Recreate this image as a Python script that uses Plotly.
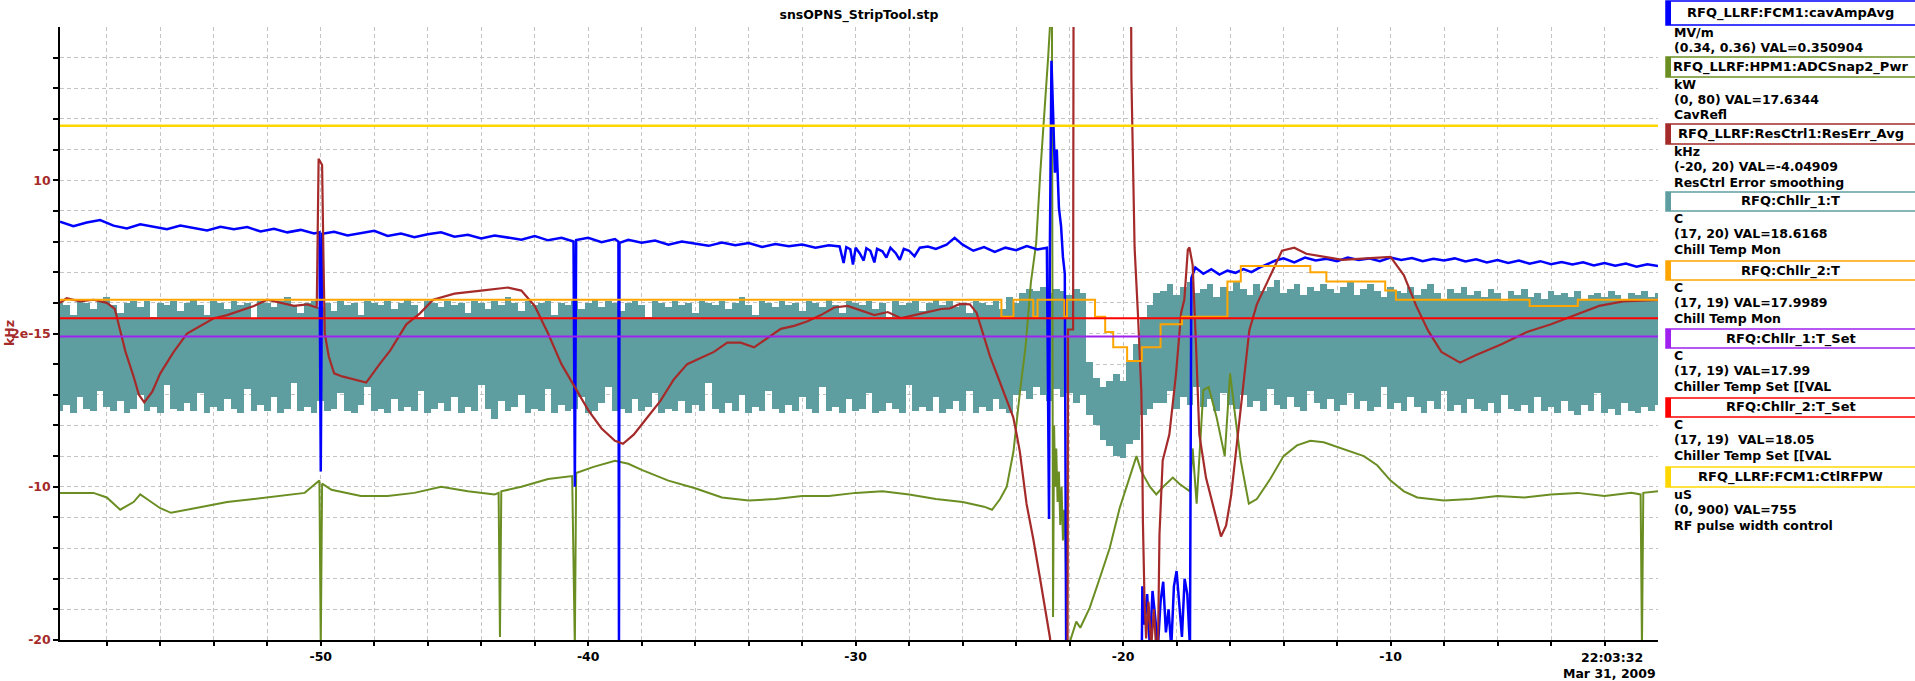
import plotly.graph_objects as go

# ---------------------------------------------------------------------------
# Strip chart data: time in seconds relative to 22:03:32 (Mar 31, 2009)
# ---------------------------------------------------------------------------

# RFQ_LLRF:FCM1:cavAmpAvg  [MV/m]
blue_t = [-59.75, -59.25, -58.75, -58.25, -57.75, -57.25, -56.75, -56.25, -55.75, -55.25,
          -54.75, -54.25, -53.75, -53.25, -52.75, -52.25, -51.75, -51.25, -50.75, -50.25,
          -50.05, -50.0, -49.95, -49.5, -49.0, -48.5, -48.0, -47.5, -47.0, -46.5,
          -46.0, -45.5, -45.0, -44.5, -44.0, -43.5, -43.0, -42.5, -42.0, -41.5,
          -41.0, -40.55, -40.5, -40.45, -40.0, -39.5, -39.0, -38.87, -38.85, -38.83,
          -38.5, -38.0, -37.5, -37.0, -36.5, -36.0, -35.5, -35.0, -34.5, -34.0,
          -33.5, -33.0, -32.5, -32.0, -31.5, -31.0, -30.6, -30.45, -30.35, -30.2,
          -30.1, -30.0, -29.85, -29.7, -29.6, -29.45, -29.3, -29.2, -29.0, -28.85,
          -28.7, -28.5, -28.35, -28.2, -28.0, -27.8, -27.6, -27.3, -27.0, -26.6,
          -26.3, -26.0, -25.6, -25.2, -24.8, -24.4, -24.0, -23.6, -23.2, -22.85,
          -22.77, -22.74, -22.68, -22.62, -22.55, -22.48, -22.40, -22.32, -22.25, -22.18,
          -22.14, -22.12, -19.32, -19.28, -19.2, -19.1, -19.0, -18.9, -18.8, -18.7,
          -18.6, -18.5, -18.4, -18.3, -18.2, -18.1, -18.0, -17.9, -17.8, -17.7,
          -17.6, -17.5, -17.45, -17.3, -17.0, -16.7, -16.4, -16.1, -15.8, -15.5,
          -15.2, -14.9, -14.6, -14.3, -14.0, -13.6, -13.2, -12.8, -12.4, -12.0,
          -11.6, -11.2, -10.8, -10.4, -10.0, -9.6, -9.2, -8.8, -8.4, -8.0,
          -7.6, -7.2, -6.8, -6.4, -6.0, -5.6, -5.2, -4.8, -4.4, -4.0,
          -3.6, -3.2, -2.8, -2.4, -2.0, -1.6, -1.2, -0.8, -0.4, 0.0]
blue_v = [0.35365, 0.35350, 0.35362, 0.35370, 0.35352, 0.35343, 0.35356, 0.35348, 0.35340, 0.35352,
          0.35345, 0.35336, 0.35348, 0.35340, 0.35347, 0.35333, 0.35342, 0.35330, 0.35338, 0.35326,
          0.35330, 0.3455, 0.35325, 0.35332, 0.35320, 0.35328, 0.35335, 0.35318, 0.35326, 0.35314,
          0.35324, 0.35330, 0.35316, 0.35322, 0.35310, 0.35320, 0.35313, 0.35306, 0.35318, 0.35304,
          0.35312, 0.35300, 0.3450, 0.35305, 0.35312, 0.35298, 0.35308, 0.35300, 0.33975, 0.35296,
          0.35306, 0.35296, 0.35303, 0.35290, 0.35300, 0.35294, 0.35286, 0.35297, 0.35288, 0.35295,
          0.35282, 0.35292, 0.35285, 0.35290, 0.35280, 0.35288, 0.35284, 0.35230, 0.35282, 0.35275,
          0.35225, 0.35280, 0.35262, 0.35238, 0.35278, 0.35270, 0.35232, 0.35276, 0.35268, 0.35248,
          0.35280, 0.35262, 0.35240, 0.35276, 0.35270, 0.35252, 0.35280, 0.35284, 0.35276, 0.35290,
          0.35312, 0.35290, 0.35270, 0.35282, 0.35266, 0.35280, 0.35272, 0.35285, 0.35274, 0.35280,
          0.34395, 0.3525, 0.3589, 0.35725, 0.35525, 0.3560, 0.3541, 0.3535, 0.3525, 0.35195,
          0.3440, 0.3375, 0.3375, 0.34175, 0.3405, 0.3415, 0.33975, 0.3416, 0.34075, 0.33975,
          0.34125, 0.3419, 0.34025, 0.3410, 0.33975, 0.34175, 0.34225, 0.3410, 0.3401, 0.3420,
          0.3415, 0.33975, 0.3518, 0.35215, 0.35195, 0.35210, 0.35192, 0.35205, 0.35198, 0.35210,
          0.35200, 0.35215, 0.35226, 0.35238, 0.35245, 0.35232, 0.35248, 0.35238, 0.35244, 0.35236,
          0.35248, 0.35240, 0.35245, 0.35236, 0.35248, 0.35240, 0.35246, 0.35236, 0.35244, 0.35238,
          0.35245, 0.35235, 0.35242, 0.35232, 0.35240, 0.35230, 0.35238, 0.35228, 0.35236, 0.35226,
          0.35233, 0.35225, 0.35232, 0.35222, 0.35230, 0.35221, 0.35228, 0.35218, 0.35226, 0.35220]

# RFQ_LLRF:HPM1:ADCSnap2_Pwr  [kW]
green_t = [-59.75, -58.5, -58.0, -57.5, -57.0, -56.75, -56.5, -56.0, -55.6, -55.0,
           -54.5, -53.5, -52.5, -51.5, -50.6, -50.2, -50.05, -50.0, -49.95, -49.6,
           -48.5, -47.5, -46.5, -45.5, -44.5, -43.5, -43.35, -43.3, -43.25, -42.5,
           -41.5, -40.6, -40.5, -40.45, -39.8, -39.0, -38.5, -38.0, -37.0, -36.0,
           -35.0, -34.0, -33.0, -32.0, -31.0, -30.0, -29.0, -28.0, -27.0, -26.0,
           -25.2, -24.9, -24.6, -24.35, -24.1, -23.85, -23.65, -23.45, -23.25, -23.1,
           -22.9, -22.8, -22.72, -22.66, -22.62, -22.58, -22.54, -22.5, -22.45, -22.4,
           -22.35, -22.3, -22.25, -22.2, -22.15, -22.1, -22.06, -21.75, -21.6, -21.25,
           -20.88, -20.5, -20.13, -19.75, -19.5, -19.32, -19.0, -18.76, -18.5, -18.14,
           -17.9, -17.5, -17.4, -17.25, -17.0, -16.8, -16.5, -16.2, -16.0, -15.8,
           -15.6, -15.3, -15.0, -14.5, -14.0, -13.5, -13.0, -12.5, -12.0, -11.5,
           -11.0, -10.5, -10.0, -9.5, -9.0, -8.0, -7.0, -6.0, -5.0, -4.0,
           -3.0, -2.0, -1.0, -0.65, -0.6, -0.55, 0.0]
green_v = [19.2, 19.2, 18.6, 17.0, 18.0, 19.0, 18.4, 17.2, 16.6, 17.0,
           17.4, 18.0, 18.4, 18.8, 19.2, 20.4, 20.8, -1.0, 20.4, 19.6,
           18.8, 18.8, 19.2, 20.0, 19.4, 19.0, 19.2, 0.4, 19.4, 20.0,
           21.0, 21.4, -1.0, 21.8, 22.6, 23.4, 23.0, 22.2, 20.8, 19.8,
           18.6, 18.2, 18.4, 18.8, 18.8, 19.2, 19.4, 19.0, 18.4, 18.0,
           17.4, 17.0, 18.4, 20.0, 24.6, 32.6, 38.2, 46.6, 51.8, 60.8,
           70.6, 76.2, 81.0, 81.0, 3.0, 28.0, 20.0, 25.0, 18.0, 22.0,
           15.0, 20.0, 13.0, 17.0, 12.0, -1.0, -1.0, 2.4, 1.6, 4.2,
           8.0, 12.0, 17.2, 21.2, 24.0, 22.0, 20.0, 19.0, 20.0, 21.2,
           20.4, 19.4, 25.0, 17.8, 32.6, 33.0, 29.0, 24.0, 34.8, 29.0,
           23.4, 17.8, 18.4, 21.0, 24.0, 25.4, 26.0, 25.8, 25.2, 24.6,
           24.0, 22.8, 20.8, 19.4, 18.6, 18.2, 18.4, 18.8, 18.6, 19.0,
           19.2, 18.8, 19.2, 19.0, -1.0, 19.2, 19.4]

# RFQ_LLRF:ResCtrl1:ResErr_Avg  [kHz]
resErr_t = [-59.75, -59.5, -59.0, -58.5, -58.0, -57.7, -57.5, -57.3, -57.0, -56.8,
            -56.6, -56.3, -56.0, -55.5, -55.0, -54.5, -54.0, -53.5, -53.0, -52.5,
            -52.0, -51.5, -51.0, -50.5, -50.15, -50.08, -49.95, -49.9, -49.85, -49.7,
            -49.5, -49.2, -48.8, -48.3, -47.8, -47.4, -46.8, -46.3, -45.8, -45.0,
            -44.0, -43.0, -42.5, -42.0, -41.5, -41.0, -40.5, -40.0, -39.5, -39.0,
            -38.7, -38.3, -37.8, -37.3, -36.8, -36.3, -35.8, -35.3, -34.8, -34.3,
            -33.8, -33.3, -32.8, -32.3, -31.8, -31.3, -30.8, -30.3, -29.8, -29.3,
            -28.8, -28.3, -27.8, -27.3, -26.8, -26.48, -26.1, -25.73, -25.48, -25.23,
            -24.98, -24.73, -24.48, -24.11, -23.98, -23.86, -23.61, -23.36, -23.11, -22.86,
            -22.73, -22.6, -22.08, -22.06, -21.87, -21.85, -19.71, -19.69, -19.63, -19.57,
            -19.44, -19.32, -19.29, -19.26, -19.2, -19.14, -19.05, -18.95, -18.85, -18.75,
            -18.7, -18.64, -18.52, -18.27, -18.02, -17.83, -17.71, -17.58, -17.52, -17.4,
            -17.27, -17.15, -16.9, -16.65, -16.34, -16.15, -15.96, -15.78, -15.59, -15.4,
            -15.28, -15.0, -14.5, -14.06, -13.6, -13.15, -12.46, -11.8, -10.9, -10.0,
            -9.5, -9.04, -8.6, -8.1, -7.4, -6.8, -5.85, -4.9, -4.0, -3.1,
            -2.2, -1.3, 0.0]
resErr_v = [2.0, 2.3, 2.1, 2.2, 2.0, 1.6, 0.2, -1.2, -2.8, -4.0,
            -4.5, -3.8, -2.6, -1.2, 0.0, 0.5, 1.0, 1.2, 1.5, 1.8,
            2.2, 2.0, 1.8, 1.9, 1.7, 11.4, 11.0, 5.0, 0.0, -1.5,
            -2.6, -2.8, -3.0, -3.2, -2.0, -1.1, 0.6, 1.3, 2.2, 2.6,
            2.8, 3.0, 2.8, 1.8, 0.0, -2.0, -3.5, -5.0, -6.2, -7.0,
            -7.2, -6.6, -5.5, -4.4, -3.0, -2.0, -1.6, -1.2, -0.6, -0.6,
            -0.9, -0.3, 0.3, 0.5, 0.8, 1.2, 1.7, 1.8, 1.5, 1.2,
            1.4, 1.0, 1.2, 1.4, 1.6, 1.64, 1.93, 1.9, 1.36, -0.06,
            -1.48, -2.61, -3.75, -5.45, -6.58, -7.72, -11.12, -13.39, -15.94, -18.5,
            -19.9, -25.0, -25.0, 0.26, 0.26, 25.0, 25.0, 16.7, 11.6, 5.6,
            1.08, -3.75, -6.58, -12.26, -17.36, -19.9, -17.5, -20.5, -18.0, -21.0,
            -21.0, -13.1, -8.29, -6.58, -2.61, 1.36, 2.21, 5.47, 5.61, 4.48,
            -0.91, -6.58, -9.42, -11.12, -13.25, -12.54, -10.56, -7.72, -4.6, -1.48,
            0.22, 1.9, 3.8, 5.4, 5.6, 5.2, 5.0, 4.8, 4.9, 5.0,
            3.8, 1.8, 0.2, -1.2, -1.9, -1.4, -0.7, 0.1, 0.6, 1.2,
            1.8, 2.1, 2.2]

# RFQ:Chllr_1:T  [C] -- fast oscillation, kept as the high / low reading of
# each 0.25 s sample window
chl1_t = [round(-59.75 + 0.25 * k, 2) for k in range(240)]
chl1_hi = [
    18.65, 18.64, 18.59, 18.66, 18.65, 18.62, 18.66, 18.68, 18.64, 18.60, 18.65, 18.66,
    18.63, 18.66, 18.58, 18.65, 18.64, 18.66, 18.61, 18.65, 18.67, 18.64, 18.59, 18.66,
    18.65, 18.62, 18.66, 18.64, 18.65, 18.57, 18.66, 18.65, 18.63, 18.66, 18.68, 18.64,
    18.60, 18.65, 18.66, 18.63, 18.65, 18.61, 18.66, 18.64, 18.65, 18.59, 18.66, 18.65,
    18.64, 18.66, 18.62, 18.65, 18.67, 18.64, 18.58, 18.66, 18.65, 18.63, 18.66, 18.64,
    18.65, 18.60, 18.66, 18.65, 18.62, 18.66, 18.64, 18.68, 18.65, 18.61, 18.66, 18.64,
    18.65, 18.66, 18.59, 18.65, 18.64, 18.66, 18.62, 18.65, 18.67, 18.63, 18.66, 18.65,
    18.61, 18.65, 18.66, 18.64, 18.58, 18.66, 18.65, 18.63, 18.66, 18.64, 18.65, 18.60,
    18.66, 18.65, 18.64, 18.66, 18.62, 18.65, 18.68, 18.64, 18.59, 18.66, 18.65, 18.63,
    18.66, 18.64, 18.65, 18.61, 18.66, 18.65, 18.63, 18.67, 18.64, 18.60, 18.66, 18.65,
    18.64, 18.66, 18.62, 18.65, 18.58, 18.66, 18.64, 18.65, 18.66, 18.61, 18.65, 18.67,
    18.64, 18.66, 18.63, 18.65, 18.60, 18.66, 18.65, 18.64, 18.66, 18.62, 18.68, 18.65,
    18.70, 18.72, 18.71, 18.73, 18.70, 18.72, 18.71, 18.69, 18.72, 18.70,
    18.36, 18.28, 18.24, 18.27, 18.30, 18.27, 18.36,
    18.45, 18.58, 18.64, 18.70,
    18.71, 18.74, 18.69, 18.73, 18.75, 18.70, 18.72, 18.74, 18.68, 18.73, 18.71, 18.75,
    18.72, 18.69, 18.74, 18.71, 18.73, 18.76, 18.70, 18.72, 18.74, 18.69, 18.73, 18.71,
    18.74, 18.72, 18.70, 18.73, 18.75, 18.69, 18.72, 18.74, 18.71, 18.68, 18.73, 18.71,
    18.70, 18.73, 18.69, 18.72, 18.74, 18.70, 18.67, 18.72, 18.70, 18.73, 18.69, 18.71,
    18.68, 18.72, 18.70, 18.66, 18.71, 18.69, 18.72, 18.68, 18.70, 18.67, 18.71, 18.69,
    18.70, 18.68, 18.71, 18.67, 18.69, 18.70, 18.68, 18.71, 18.69, 18.67, 18.70, 18.69,
    18.71, 18.68, 18.70]
chl1_lo = [
    18.12, 18.15, 18.11, 18.19, 18.13, 18.12, 18.22, 18.14, 18.12, 18.17, 18.11, 18.13,
    18.20, 18.12, 18.14, 18.11, 18.25, 18.13, 18.12, 18.16, 18.12, 18.21, 18.11, 18.14,
    18.12, 18.18, 18.13, 18.11, 18.23, 18.12, 18.15, 18.12, 18.19, 18.11, 18.13, 18.26,
    18.12, 18.14, 18.11, 18.17, 18.12, 18.13, 18.21, 18.12, 18.11, 18.15, 18.24, 18.12,
    18.13, 18.11, 18.18, 18.12, 18.14, 18.12, 18.22, 18.11, 18.13, 18.16, 18.12, 18.19,
    18.11, 18.14, 18.12, 18.25, 18.13, 18.08, 18.17, 18.12, 18.14, 18.20, 18.11, 18.13,
    18.12, 18.23, 18.11, 18.15, 18.12, 18.13, 18.19, 18.11, 18.12, 18.16, 18.24, 18.12,
    18.13, 18.11, 18.18, 18.12, 18.14, 18.21, 18.11, 18.13, 18.12, 18.17, 18.11, 18.15,
    18.12, 18.26, 18.13, 18.11, 18.16, 18.12, 18.20, 18.11, 18.14, 18.12, 18.22, 18.13,
    18.11, 18.15, 18.12, 18.19, 18.13, 18.11, 18.24, 18.12, 18.14, 18.11, 18.18, 18.12,
    18.13, 18.21, 18.11, 18.12, 18.16, 18.13, 18.11, 18.25, 18.12, 18.14, 18.12, 18.19,
    18.11, 18.13, 18.17, 18.12, 18.22, 18.11, 18.14, 18.12, 18.18, 18.13, 18.11, 18.20,
    18.22, 18.18, 18.24, 18.20, 18.17, 18.23, 18.19, 18.21, 18.16, 18.20,
    18.10, 18.05, 17.98, 17.95, 17.90, 17.89, 17.96,
    17.98, 18.10, 18.13, 18.16,
    18.16, 18.22, 18.13, 18.19, 18.15, 18.24, 18.14, 18.18, 18.12, 18.21, 18.15, 18.13,
    18.20, 18.14, 18.17, 18.12, 18.23, 18.15, 18.13, 18.19, 18.14, 18.12, 18.22, 18.16,
    18.13, 18.18, 18.12, 18.15, 18.21, 18.13, 18.17, 18.12, 18.14, 18.24, 18.13, 18.16,
    18.12, 18.19, 18.14, 18.11, 18.17, 18.13, 18.22, 18.12, 18.15, 18.11, 18.18, 18.13,
    18.12, 18.16, 18.11, 18.20, 18.13, 18.12, 18.15, 18.11, 18.19, 18.12, 18.14, 18.11,
    18.17, 18.12, 18.10, 18.15, 18.12, 18.21, 18.11, 18.13, 18.10, 18.16, 18.12, 18.11,
    18.14, 18.12, 18.15]

# RFQ:Chllr_2:T  [C]
chl2_t = [-59.75, -24.55, -24.1, -23.36, -23.2, -22.2, -22.1, -21.05, -20.67, -20.37,
          -19.85, -19.3, -18.6, -17.8, -16.1, -15.6, -13.0, -12.4, -10.2, -9.8,
          -4.8, -3.0, 0.0]
chl2_v = [18.11, 18.055, 18.11, 18.055, 18.11, 18.055, 18.11, 18.055, 18.005, 17.955,
          17.91, 17.955, 18.03, 18.055, 18.17, 18.22, 18.20, 18.17, 18.14, 18.11,
          18.09, 18.11, 18.11]

# Set points and pulse width (constant over the window)
span_t = [-59.75, 0.0]
chl1_set = 17.99
chl2_set = 18.05
rf_pw = 755

# Legend panel contents
names = ["RFQ_LLRF:FCM1:cavAmpAvg", "RFQ_LLRF:HPM1:ADCSnap2_Pwr",
         "RFQ_LLRF:ResCtrl1:ResErr_Avg", "RFQ:Chllr_1:T", "RFQ:Chllr_2:T",
         "RFQ:Chllr_1:T_Set", "RFQ:Chllr_2:T_Set", "RFQ_LLRF:FCM1:CtlRFPW"]
units = ["MV/m", "kW", "kHz", "C", "C", "C", "C", "uS"]
ranges = ["(0.34, 0.36)", "(0, 80)", "(-20, 20)", "(17, 20)", "(17, 19)",
          "(17, 19)", "(17, 19)\u00a0", "(0, 900)"]
vals = ["0.350904", "17.6344", "-4.04909", "18.6168", "17.9989",
        "17.99", "18.05", "755"]
descs = ["", "CavRefl", "ResCtrl Error smoothing", "Chill Temp Mon",
         "Chill Temp Mon", "Chiller Temp Set [[VAL", "Chiller Temp Set [[VAL",
         "RF pulse width control"]
colors = ["#0000FF", "#6B8E23", "#A52A2A", "#5F9EA0", "#FFA500",
          "#A020F0", "#FF0000", "#FFD700"]

# kHz axis labels (the zero line prints as a round-off residue)
y_label_vals = [-20, -10, 0, 10]
y_label_text = ["-20", "-10", "2e-15", "10"]

# ---------------------------------------------------------------------------
# Figure
# ---------------------------------------------------------------------------
W, H = 1915, 681
PL, PR, PT, PB = 60, 1658, 27, 640
FONT = "DejaVu Sans"
FS = 12.5


def px(x):
    return (x - PL) / (PR - PL)


def py(y):
    return (PB - y) / (PB - PT)


def bold(size=FS, color="black"):
    return dict(family=FONT, size=size, color=color, weight="bold")


fig = go.Figure()

# the visible kHz axis is the base of the overlay stack; it carries no marks
fig.add_trace(go.Scatter(x=[], y=[], mode="lines", yaxis="y", hoverinfo="skip"))

# Each curve lives on its own hidden y axis carrying the curve's range; the
# overlay order sets the drawing order (chiller band at the back).
fig.add_trace(go.Bar(x=chl1_t, y=[h - l for h, l in zip(chl1_hi, chl1_lo)],
                     base=chl1_lo, width=0.25, yaxis="y2",
                     marker=dict(color=colors[3], line=dict(width=0)),
                     hoverinfo="skip"))
fig.add_trace(go.Scatter(x=green_t, y=green_v, mode="lines", yaxis="y3",
                         line=dict(color=colors[1], width=2), hoverinfo="skip"))
fig.add_trace(go.Scatter(x=blue_t, y=blue_v, mode="lines", yaxis="y4",
                         line=dict(color=colors[0], width=2.5), hoverinfo="skip"))
fig.add_trace(go.Scatter(x=resErr_t, y=resErr_v, mode="lines", yaxis="y5",
                         line=dict(color=colors[2], width=2.2), hoverinfo="skip"))
fig.add_trace(go.Scatter(x=chl2_t, y=chl2_v, mode="lines", yaxis="y6",
                         line=dict(color=colors[4], width=2, shape="hv"),
                         hoverinfo="skip"))
fig.add_trace(go.Scatter(x=span_t, y=[chl1_set, chl1_set], mode="lines", yaxis="y6",
                         line=dict(color=colors[5], width=2), hoverinfo="skip"))
fig.add_trace(go.Scatter(x=span_t, y=[chl2_set, chl2_set], mode="lines", yaxis="y6",
                         line=dict(color=colors[6], width=2), hoverinfo="skip"))
fig.add_trace(go.Scatter(x=span_t, y=[rf_pw, rf_pw], mode="lines", yaxis="y7",
                         line=dict(color=colors[7], width=2.5), hoverinfo="skip"))

grid = dict(showgrid=True, gridcolor="#c4c4c4", gridwidth=1, griddash="4px,3px",
            zeroline=False, automargin=False)

x_ticks = list(range(-58, 0, 2))
x_text = [str(v) if v % 10 == 0 else "" for v in x_ticks]
y_ticks = list(range(-20, 20, 2))
y_text = [y_label_text[y_label_vals.index(v)] if v in y_label_vals else ""
          for v in y_ticks]

hidden = dict(overlaying="y", anchor="x", visible=False, showgrid=False,
              zeroline=False, automargin=False)

fig.update_layout(
    width=W, height=H,
    margin=dict(l=PL, r=W - PR, t=PT, b=H - PB, pad=0, autoexpand=False),
    paper_bgcolor="white", plot_bgcolor="white",
    showlegend=False, bargap=0,
    font=bold(),
    title=dict(text="snsOPNS_StripTool.stp", x=0.5, xref="paper", xanchor="center",
               y=1 - 15 / H, yref="container", yanchor="middle", font=bold()),
    xaxis=dict(range=[-59.75, 0], tickmode="array", tickvals=x_ticks, ticktext=x_text,
               showline=True, linecolor="black", linewidth=1.5, ticks="outside",
               ticklen=4, tickcolor="black", tickwidth=1.5, tickfont=bold(), **grid),
    yaxis=dict(range=[-20, 20], tickmode="array", tickvals=y_ticks, ticktext=y_text,
               showline=True, linecolor="black", linewidth=1.5, ticks="outside",
               ticklen=5, tickcolor="black", tickwidth=1.5,
               tickfont=bold(color=colors[2]), **grid),
    yaxis2=dict(range=[17, 20], **hidden),
    yaxis3=dict(range=[0, 80], **hidden),
    yaxis4=dict(range=[0.34, 0.36], **hidden),
    yaxis5=dict(range=[-20, 20], **hidden),
    yaxis6=dict(range=[17, 19], **hidden),
    yaxis7=dict(range=[0, 900], **hidden),
)

shapes = []
annotations = []

# unit label of the visible axis, overlapping the zero tick label
annotations.append(dict(text="kHz", x=px(9), y=py(333), xref="paper", yref="paper",
                        textangle=-90, showarrow=False, xanchor="center",
                        yanchor="middle", font=bold(color=colors[2])))

# time stamp at the right end of the time axis
annotations.append(dict(text="22:03:32", x=px(1612), y=py(657), xref="paper",
                        yref="paper", xanchor="center", yanchor="middle",
                        showarrow=False, font=bold()))
annotations.append(dict(text="Mar 31, 2009", x=px(PR), y=py(673), xref="paper",
                        yref="paper", xanchor="right", yanchor="middle",
                        showarrow=False, font=bold()))

# legend panel on the right
box_tops = [1, 57, 124, 192, 261, 329, 398, 467]
box_bottoms = [25, 77, 144, 211, 280, 348, 417, 487]
BX0, BX1 = 1666, 1925
TX = 1672
offsets = [7.5, 22.5, 38]
for i in range(8):
    t0, t1 = box_tops[i], box_bottoms[i]
    shapes.append(dict(type="rect", xref="paper", yref="paper",
                       x0=px(BX0), x1=px(BX1), y0=py(t1), y1=py(t0),
                       line=dict(color=colors[i], width=1.5), fillcolor="white",
                       layer="above"))
    shapes.append(dict(type="rect", xref="paper", yref="paper",
                       x0=px(BX0), x1=px(BX0 + 5), y0=py(t1), y1=py(t0),
                       line=dict(width=0), fillcolor=colors[i], layer="above"))
    annotations.append(dict(text=names[i], x=px((BX0 + 1915) / 2), y=py((t0 + t1) / 2),
                            xref="paper", yref="paper", xanchor="center",
                            yanchor="middle", showarrow=False, font=bold(size=13)))
    lines = [units[i], f"{ranges[i]} VAL={vals[i]}"]
    if descs[i]:
        lines.append(descs[i])
    for k, txt in enumerate(lines):
        annotations.append(dict(text=txt, x=px(TX), y=py(t1 + offsets[k]),
                                xref="paper", yref="paper", xanchor="left",
                                yanchor="middle", showarrow=False, font=bold()))

fig.update_layout(shapes=shapes, annotations=annotations)
fig.write_html("out.html")
